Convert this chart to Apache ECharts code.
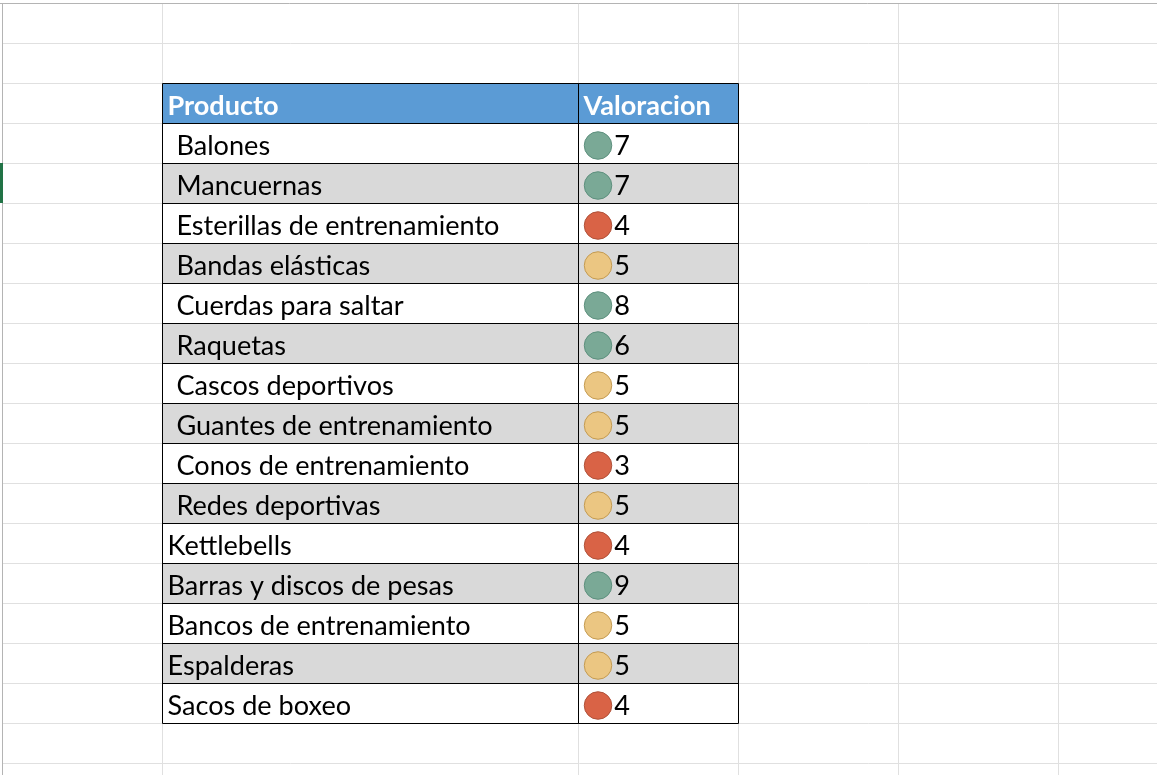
<!DOCTYPE html>
<html><head><meta charset="utf-8">
<style>html,body{margin:0;padding:0;background:#fff;overflow:hidden}#c{width:1157px;height:775px}</style>
<script src="https://cdn.jsdelivr.net/npm/echarts@6/dist/echarts.min.js"></script>
</head><body><div id="c"></div>
<script>
const headers = ['Producto', 'Valoracion'];
const products = [' Balones', ' Mancuernas', ' Esterillas de entrenamiento', ' Bandas elásticas', ' Cuerdas para saltar', ' Raquetas', ' Cascos deportivos', ' Guantes de entrenamiento', ' Conos de entrenamiento', ' Redes deportivas', 'Kettlebells', 'Barras y discos de pesas', 'Bancos de entrenamiento', 'Espalderas', 'Sacos de boxeo'];
const ratings = [7, 7, 4, 5, 8, 6, 5, 5, 3, 5, 4, 9, 5, 5, 4];
const sheetCols = [162, 578, 738, 898, 1058];
const sheetRows = [43, 83, 123, 163, 203, 243, 283, 323, 363, 403, 443, 483, 523, 563, 603, 643, 683, 723, 763];

const FONT = 'Lato';
const SIZE = 27.1;
const W = 1157, H = 775;
const TOP = 83.5, ROW = 40;
const tone = v => v >= 6 ? {fill:'#7aa996', edge:'#5c8f7c'} : v >= 5 ? {fill:'#ebc682', edge:'#c39a50'} : {fill:'#d96346', edge:'#ae5038'};
const rowFill = i => i === 0 ? '#5b9bd5' : (i % 2 === 0 ? '#d9d9d9' : '#ffffff');
const rowKeys = ['h'].concat(products.map((_, i) => 'r' + i));

const line = (x1, y1, x2, y2, stroke) => ({type:'line', silent:true, z:-10,
  shape:{x1, y1, x2, y2}, style:{stroke, lineWidth:1}});
const graphic = [
  ...sheetCols.map(x => line(x + .5, 3, x + .5, H, '#e0e0e0')),
  ...sheetRows.map(y => line(2, y + .5, W, y + .5, '#e0e0e0')),
  line(0, 3.5, W, 3.5, '#b4b4b4'),
  line(2.5, 3, 2.5, H, '#b4b4b4'),
  {type:'rect', silent:true, z:-9, shape:{x:0, y:163, width:3, height:40}, style:{fill:'#217346'}}
];

const band = (texts, gridIndex) => ({
  type:'bar', xAxisIndex:gridIndex, yAxisIndex:gridIndex, barWidth:'100%', silent:true, z:1,
  data: rowKeys.map((k, i) => ({
    value:1,
    itemStyle:{color:rowFill(i), borderWidth:0},
    label:{
      show: texts[i] !== '',
      formatter: texts[i],
      position:'insideLeft',
      distance: String(texts[i]).startsWith(' ') ? 7 : 5,
      offset:[0, 3],
      fontFamily:FONT, fontSize:SIZE,
      fontWeight: i === 0 ? 'bold' : 'normal',
      color: i === 0 ? '#fff' : '#000'
    }
  }))
});

const rule = {show:true, lineStyle:{color:'#000', width:1}};
const grid = (left, width) => ({left, width, top:TOP, height:ROW * rowKeys.length, containLabel:false});
const hidden = {axisLine:{show:false}, axisTick:{show:false}, axisLabel:{show:false}};
const xA = i => ({type:'value', gridIndex:i, min:0, max:1, interval:1, z:5, ...hidden, splitLine:rule});
const yA = i => ({type:'category', gridIndex:i, data:rowKeys, inverse:true, z:5, ...hidden,
  splitLine:{...rule, interval:0}});

const chart = echarts.init(document.getElementById('c'), null, {renderer:'canvas'});
chart.setOption({
  animation:false,
  backgroundColor:'#fff',
  graphic,
  grid:[grid(162.5, 416), grid(578.5, 160)],
  xAxis:[xA(0), xA(1)],
  yAxis:[yA(0), yA(1)],
  series:[
    band([headers[0], ...products], 0),
    band([headers[1], ...ratings.map(() => '')], 1),
    {
      type:'scatter', xAxisIndex:1, yAxisIndex:1, silent:true, z:6,
      symbol:'circle', symbolSize:27.5, symbolOffset:[0, 2],
      data: ratings.map((v, i) => ({
        value:[0.122, rowKeys[i + 1], v],
        itemStyle:{color:tone(v).fill, borderColor:tone(v).edge, borderWidth:1, opacity:1},
        label:{show:true, formatter:String(v), position:'right', distance:2, offset:[0, 1],
          fontFamily:FONT, fontSize:SIZE, color:'#000', opacity:1}
      }))
    }
  ]
});
</script></body></html>
